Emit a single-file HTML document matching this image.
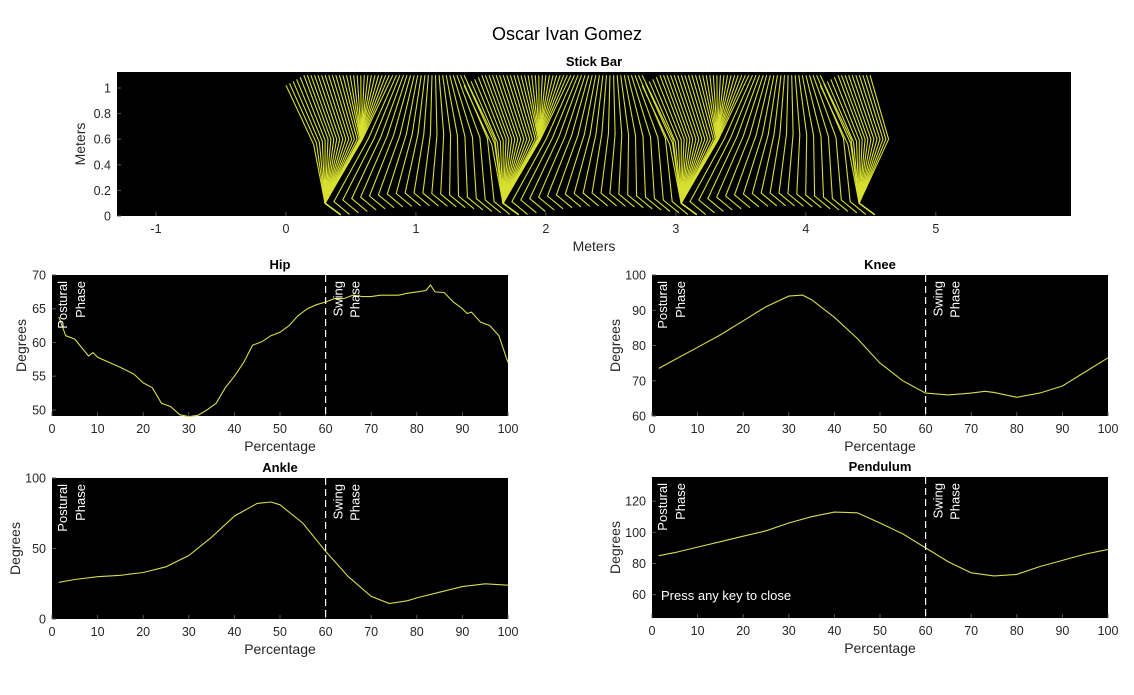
<!DOCTYPE html>
<html><head><meta charset="utf-8"><style>
html,body{margin:0;padding:0;background:#fff;}
svg{display:block;font-family:"Liberation Sans",Arial,sans-serif;}
.tk{font-size:12.5px;fill:#262626;}
.lb{font-size:14px;fill:#262626;}
.tt{font-size:13px;font-weight:bold;fill:#000;}
.ph{font-size:13px;fill:#fff;}
</style></head><body>
<svg id="fig" width="1134" height="695" viewBox="0 0 1134 695">
<rect width="1134" height="695" fill="#fff"/>
<text x="567" y="40" text-anchor="middle" font-size="18" fill="#000">Oscar Ivan Gomez</text>
</svg>
<script>
// ---- data ----
const hipPct=[1.5,3,5,8,9,10,15,18,20,22,24,26,28,30,32,34,36,38,40,42,44,46,48,50,52,54,56,58,60,62,64,66,68,70,72,74,76,78,80,82,83,84,86,88,90,91,92,94,96,98,100];
const hipVal=[63.8,61,60.5,58,58.5,57.8,56.3,55.3,54,53.3,51,50.5,49.3,49,49.2,50,51,53.3,55,57,59.6,60.1,61,61.5,62.5,64,65,65.6,66,66.5,66.5,67,66.8,66.8,67,67,67,67.3,67.5,67.7,68.5,67.5,67.4,66,65,64.3,64.5,63,62.5,61,57];
const kneePct=[1.5,5,10,15,20,25,30,33,35,40,45,50,55,60,65,70,73,75,80,85,90,95,100];
const kneeVal=[73.5,76,79.5,83,87,91,94,94.3,93,88,82,75,70,66.5,66,66.5,67,66.7,65.3,66.5,68.5,72.5,76.5];
const anklePct=[1.5,5,10,15,20,25,30,35,40,45,48,50,55,60,65,70,74,78,80,85,90,95,100];
const ankleVal=[26,28,30,31,33,37,45,58,73,82,83,81,68,48,30,16,11,13,15,19,23,25,24];
const pendPct=[1.5,5,10,15,20,25,30,35,40,45,50,55,60,65,70,75,80,85,90,95,100];
const pendVal=[85,87,90.5,94,97.5,101,106,110,113,112.5,106,99,90,81,74,72,73,78,82,86,89];
const pctTicks=[0,10,20,30,40,50,60,70,80,90,100];
const stepStarts=[0.0,1.37,2.74,4.11];
const stepEndPct=[100,100,100,28];
const stride=1.37;

const NS="http://www.w3.org/2000/svg";
const svg=document.getElementById('fig');
function el(tag,attrs,parent){const e=document.createElementNS(NS,tag);for(const k in attrs)e.setAttribute(k,attrs[k]);(parent||svg).appendChild(e);return e;}
function txt(s,attrs,parent){const e=el('text',attrs,parent);e.textContent=s;return e;}

function axes(name,x0,y0,w,h,xmin,xmax,ymin,ymax,xt,yt,title,xl,yl){
  const g=el('g',{});
  
  
  const bg=el('rect',{x:x0,y:y0,width:w,height:h,fill:'#000'},g);
  
  
  const sx=v=>x0+(v-xmin)/(xmax-xmin)*w, sy=v=>y0+h-(v-ymin)/(ymax-ymin)*h;
  xt.forEach(v=>{const t=txt(String(v),{x:sx(v),y:y0+h+17,'text-anchor':'middle',class:'tk'},g);
    
    el('line',{x1:sx(v),x2:sx(v),y1:y0+h,y2:y0+h-4,stroke:'#555'},g);});
  yt.forEach(v=>{const t=txt(String(v),{x:x0-6,y:sy(v)+4.5,'text-anchor':'end',class:'tk'},g);
    
    el('line',{x1:x0,x2:x0+4,y1:sy(v),y2:sy(v),stroke:'#555'},g);});
  const tt=txt(title,{x:x0+w/2,y:y0-6,'text-anchor':'middle',class:'tt'},g);
  
  const xlab=txt(xl,{x:x0+w/2,y:y0+h+35,'text-anchor':'middle',class:'lb'},g);
  
  const maxLen=Math.max(...yt.map(v=>String(v).length));
  const ylx=x0-(maxLen>=3?32:26);
  const ylab=txt(yl,{x:ylx,y:y0+h/2,'text-anchor':'middle',class:'lb',transform:`rotate(-90 ${ylx} ${y0+h/2})`},g);
  
  return {g,sx,sy,x0,y0,w,h};
}
function phasePlot(name,x0,y0,ymin,ymax,yt,title,P,V){
  const a=axes(name,x0,y0,456,141,0,100,ymin,ymax,pctTicks,yt,title,'Percentage','Degrees');
  const d=P.map((p,i)=>(i?'L':'M')+a.sx(p).toFixed(1)+' '+a.sy(V[i]).toFixed(1)).join(' ');
  const ln=el('path',{d,fill:'none',stroke:'#d8dc4a','stroke-width':1.1},a.g);
  
  const dl=el('line',{x1:a.sx(60),x2:a.sx(60),y1:y0,y2:y0+141,stroke:'#fff','stroke-dasharray':'7 4','stroke-width':1.2},a.g);
  
  [['Postural',x0+15],['Phase',x0+33],['Swing',a.sx(60)+17],['Phase',a.sx(60)+34]].forEach(([s,x],i)=>{
    const t=txt(s,{x:x,y:y0+6,'text-anchor':'end',class:'ph',transform:`rotate(-90 ${x} ${y0+6})`},a.g);
    
  });
  return a;
}
phasePlot('hip-chart',52,275,49.1,70,[50,55,60,65,70],'Hip',hipPct,hipVal);
phasePlot('knee-chart',652,275,60,100,[60,70,80,90,100],'Knee',kneePct,kneeVal);
phasePlot('ankle-chart',52,478,0,100,[0,50,100],'Ankle',anklePct,ankleVal);
const pa=phasePlot('pendulum-chart',652,477,45,135.5,[60,80,100,120],'Pendulum',pendPct,pendVal);
const pk=txt('Press any key to close',{x:661,y:600,class:'ph'},pa.g);


// stick bar
const sb=axes('stick-bar-chart',117,72,954,144,-1.3,6.04,0,1.125,[-1,0,1,2,3,4,5],[0,0.2,0.4,0.6,0.8,1],'Stick Bar','Meters','Meters');
const sg=el('g',{stroke:'#d8e030','stroke-width':1.1,fill:'none','stroke-linejoin':'round'},sb.g);

function interp(P,V,p){for(let i=1;i<P.length;i++){if(p<=P[i]){const t=(p-P[i-1])/(P[i]-P[i-1]);return V[i-1]+t*(V[i]-V[i-1]);}}return V[V.length-1];}
stepStarts.forEach((s0,c)=>{
  for(let p=0;p<=stepEndPct[c];p+=2){
    const hx=s0+p/100*stride, hy=1.02+0.08*Math.min(1,p/10);
    const F=s0+0.3;
    const k=interp(kneePct,kneeVal,p);
    let ax,ay;
    if(p<=60){ax=F;ay=0.1;}
    else{const q=(p-60)/40;ax=F+q*stride;ay=0.1+0.08*Math.sin(q*Math.PI);}
    const bend=(k-62)*0.006;
    const kx=(hx+ax)/2+bend, ky=(hy+ay)/2;
    const d=`M${sb.sx(hx).toFixed(1)} ${sb.sy(hy).toFixed(1)} L${sb.sx(kx).toFixed(1)} ${sb.sy(ky).toFixed(1)} L${sb.sx(ax).toFixed(1)} ${sb.sy(ay).toFixed(1)} L${sb.sx(ax+0.12).toFixed(1)} ${sb.sy(Math.max(0.01,ay-0.1)).toFixed(1)}`;
    const ln=el('path',{d},sg);
    
    
  }
});
</script>
</body></html>
